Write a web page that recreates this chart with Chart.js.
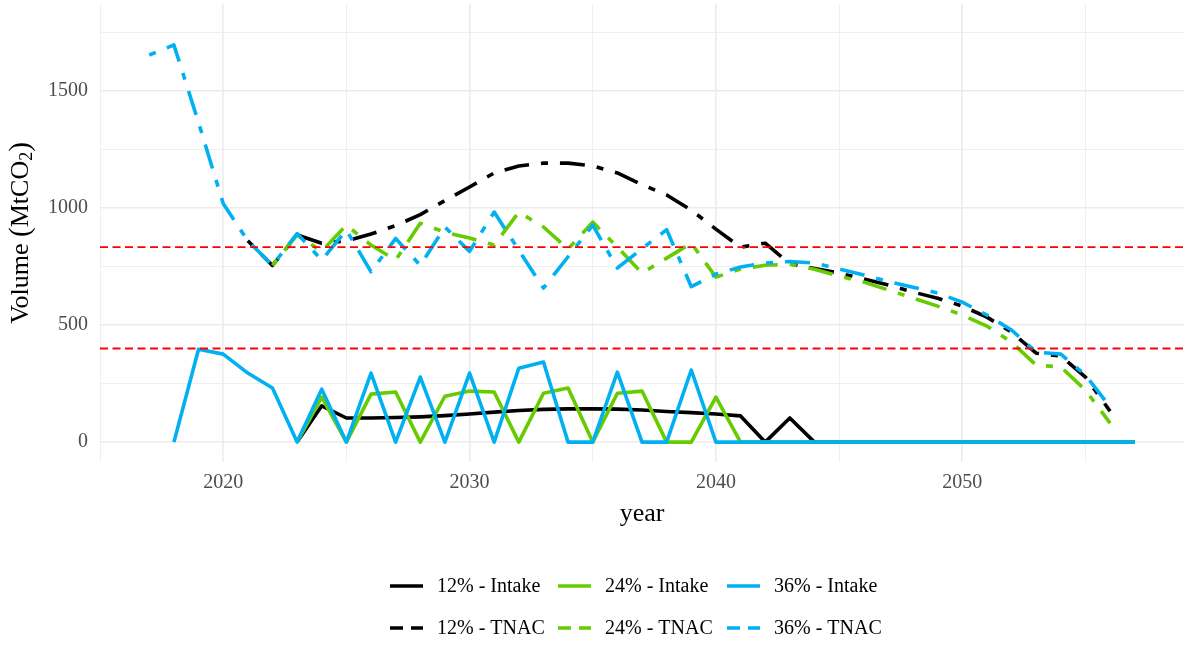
<!DOCTYPE html>
<html>
<head>
<meta charset="utf-8">
<script src="https://cdn.jsdelivr.net/npm/chart.js@4.4.0/dist/chart.umd.min.js"></script>
<style>
  html, body { margin: 0; padding: 0; background: #ffffff; }
  #chart { display: block; }
</style>
</head>
<body>
<canvas id="chart" width="1192" height="645"></canvas>
<script>
// yearly volumes in MtCO2, 2017 .. 2057 (null = no value that year)
const years = [];
for (let y = 2017; y <= 2057; y++) years.push(y);

const intake12 = [null, null, null, null, null, null,
  0, 155, 103, 103, 105, 108, 113, 120, 128, 135, 140, 142, 142, 141, 137, 131, 126, 120, 112, 0, 103, 0,
  0, 0, 0, 0, 0, 0, 0, 0, 0, 0, 0, 0, 0];
const intake24 = [null, null, null, null, null, null,
  0, 192, 0, 205, 214, 0, 196, 218, 214, 0, 209, 231, 0, 209, 218, 0, 0, 192, 0, 0, 0, 0,
  0, 0, 0, 0, 0, 0, 0, 0, 0, 0, 0, 0, 0];
const intake36 = [null, 0, 397, 376, 295, 231,
  0, 226, 0, 295, 0, 278, 0, 295, 0, 316, 342, 0, 0, 299, 0, 0, 308, 0, 0, 0, 0, 0,
  0, 0, 0, 0, 0, 0, 0, 0, 0, 0, 0, 0, 0];

const tnac12 = [null, null, null, null, 860, 755,
  885, 850, 859, 889, 925, 972, 1032, 1090, 1150, 1180, 1192, 1192, 1180, 1150, 1100, 1056, 991, 910,
  833, 850, 762, 742, 722, 697, 671, 641, 615, 581, 534, 470, 380, 368, 278, 132, null];
const tnac24 = [null, null, null, null, null, 755,
  885, 815, 927, 842, 778, 935, 897, 872, 842, 983, 919, 825, 940, 833, 722, 786, 850, 705,
  739, 756, 760, 739, 709, 684, 650, 615, 581, 543, 496, 427, 329, 321, 222, 81, null];
const tnac36 = [1654, 1697, 1365, 1020, 860, 755,
  891, 778, 906, 728, 870, 755, 919, 815, 983, 820, 658, 792, 927, 744, 826, 908, 664, 718,
  748, 765, 772, 765, 740, 714, 686, 662, 637, 598, 543, 479, 385, 376, 286, 150, null];

// cap / floor reference levels
const refLevels = [833, 400];

// grid breaks (major ones carry a label)
const yBreaks = [0, 250, 500, 750, 1000, 1250, 1500, 1750];
const yTickLabels = ["0", "500", "1000", "1500"];
const xBreaks = [2015, 2020, 2025, 2030, 2035, 2040, 2045, 2050, 2055];
const xTickLabels = ["2020", "2030", "2040", "2050"];

const BLACK = "#000000";
const GREEN = "#66CC00";
const BLUE = "#00B0F0";
const TNAC_DASH = [7, 12, 25, 12];
const SERIF = "'Liberation Serif', 'Times New Roman', serif";

function points(values) {
  const out = [];
  values.forEach((v, i) => {
    if (v !== null) out.push({ x: years[i], y: v });
  });
  return out;
}

function line(label, values, color, dashed, order) {
  return {
    label,
    data: points(values),
    borderColor: color,
    backgroundColor: color,
    borderWidth: 3.6,
    borderDash: dashed ? TNAC_DASH : [],
    borderJoinStyle: "round",
    borderCapStyle: "butt",
    pointRadius: 0,
    tension: 0,
    fill: false,
    order
  };
}

// legend order = dataset order; "order" puts the 36% lines on top
const datasets = [
  line("12% - Intake", intake12, BLACK, false, 6),
  line("24% - Intake", intake24, GREEN, false, 4),
  line("36% - Intake", intake36, BLUE, false, 2),
  line("12% - TNAC", tnac12, BLACK, true, 5),
  line("24% - TNAC", tnac24, GREEN, true, 3),
  line("36% - TNAC", tnac36, BLUE, true, 1)
];

const extras = {
  id: "extras",
  afterDatasetsDraw(chart) {
    const { ctx, chartArea, scales } = chart;
    ctx.save();
    ctx.strokeStyle = "#FF0000";
    ctx.lineWidth = 1.8;
    ctx.setLineDash([8, 4.5]);
    refLevels.forEach(v => {
      const y = scales.y.getPixelForValue(v);
      ctx.beginPath();
      ctx.moveTo(chartArea.left, y);
      ctx.lineTo(chartArea.right, y);
      ctx.stroke();
    });
    ctx.restore();
  },
  afterDraw(chart) {
    const { ctx, chartArea } = chart;
    ctx.save();
    ctx.fillStyle = "#000000";

    // x title
    ctx.font = "26px " + SERIF;
    ctx.textAlign = "center";
    ctx.textBaseline = "middle";
    ctx.fillText("year", (chartArea.left + chartArea.right) / 2, 514);

    // y title with subscript 2
    ctx.save();
    ctx.translate(21, (chartArea.top + chartArea.bottom) / 2);
    ctx.rotate(-Math.PI / 2);
    ctx.textAlign = "left";
    ctx.textBaseline = "middle";
    const big = "26px " + SERIF;
    const paren = "29px " + SERIF;
    const small = "18px " + SERIF;
    const parts = [
      { t: "Volume ", f: big, dy: 0 },
      { t: "(", f: paren, dy: 0 },
      { t: "MtCO", f: big, dy: 0 },
      { t: "2", f: small, dy: 6 },
      { t: ")", f: paren, dy: 0 }
    ];
    let total = 0;
    parts.forEach(p => { ctx.font = p.f; p.w = ctx.measureText(p.t).width; total += p.w; });
    let x = -total / 2;
    parts.forEach(p => {
      ctx.font = p.f;
      ctx.fillText(p.t, x, p.dy);
      x += p.w;
    });
    ctx.restore();

    // legend: Intake row, then TNAC row
    const colX = [390, 558, 727];
    const rowY = [586, 628];
    ctx.font = "20px " + SERIF;
    ctx.textAlign = "left";
    ctx.textBaseline = "middle";
    chart.data.datasets.forEach((ds, i) => {
      const cx = colX[i % 3];
      const cy = rowY[Math.floor(i / 3)];
      ctx.strokeStyle = ds.borderColor;
      ctx.lineWidth = 3.6;
      ctx.setLineDash(ds.borderDash.length ? [13, 8] : []);
      ctx.beginPath();
      ctx.moveTo(cx, cy);
      ctx.lineTo(cx + 33, cy);
      ctx.stroke();
      ctx.fillStyle = "#000000";
      ctx.fillText(ds.label, cx + 47, cy + 1);
    });
    ctx.restore();
  }
};

const gridWidth = step => c => (c.tick && c.tick.value % step === 0 ? 1.6 : 0.8);

function noPadding(scale) {
  scale.paddingTop = 0;
  scale.paddingBottom = 0;
  scale.paddingLeft = 0;
  scale.paddingRight = 0;
}

new Chart(document.getElementById("chart"), {
  type: "line",
  data: { datasets },
  options: {
    responsive: false,
    animation: false,
    devicePixelRatio: 1,
    layout: { padding: { top: 4, right: 8, left: 0, bottom: 0 } },
    plugins: {
      legend: { display: false },
      tooltip: { enabled: false }
    },
    scales: {
      x: {
        type: "linear",
        min: 2015,
        max: 2059,
        border: { display: false },
        grid: { color: "#EBEBEB", lineWidth: gridWidth(10), drawTicks: false },
        ticks: {
          autoSkip: false,
          maxRotation: 0,
          padding: 9,
          color: "#4D4D4D",
          font: { family: SERIF, size: 20 },
          callback: v => (xTickLabels.includes(String(v)) ? String(v) : "")
        },
        afterBuildTicks: scale => { scale.ticks = xBreaks.map(v => ({ value: v })); },
        afterFit: scale => { scale.height = 183; noPadding(scale); }
      },
      y: {
        type: "linear",
        min: -85,
        max: 1872,
        border: { display: false },
        grid: { color: "#EBEBEB", lineWidth: gridWidth(500), drawTicks: false },
        ticks: {
          autoSkip: false,
          padding: 12,
          color: "#4D4D4D",
          font: { family: SERIF, size: 20 },
          callback: v => (yTickLabels.includes(String(v)) ? String(v) : "")
        },
        afterBuildTicks: scale => { scale.ticks = yBreaks.map(v => ({ value: v })); },
        afterFit: scale => { scale.width = 100; noPadding(scale); }
      }
    }
  },
  plugins: [extras]
});
</script>
</body>
</html>
